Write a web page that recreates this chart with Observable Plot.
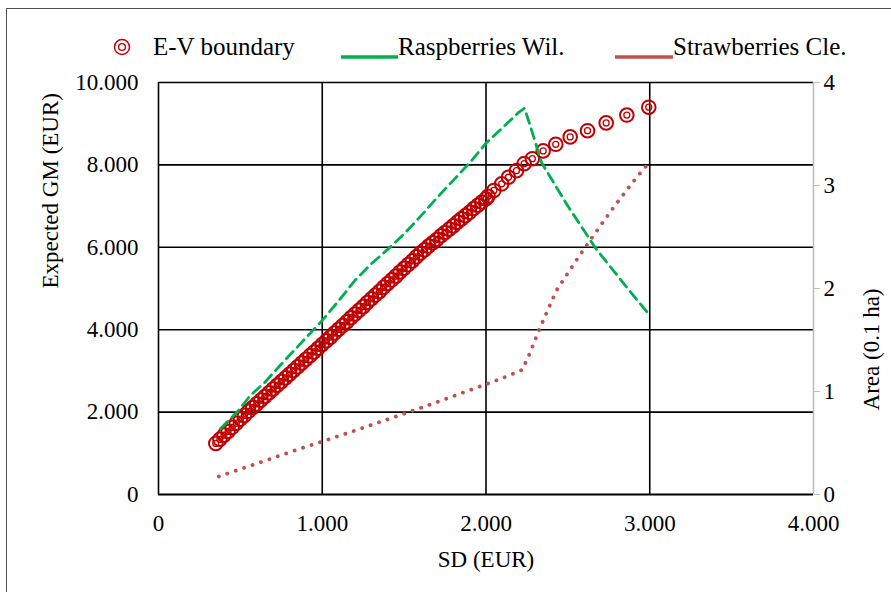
<!DOCTYPE html>
<html>
<head>
<meta charset="utf-8">
<script src="https://cdn.jsdelivr.net/npm/d3@7"></script>
<script src="https://cdn.jsdelivr.net/npm/@observablehq/plot@0.6"></script>
<style>
  html, body { margin: 0; padding: 0; background: #fff; }
  #wrap { position: relative; width: 891px; height: 592px; overflow: hidden; font-family: "Liberation Serif", "Times New Roman", "DejaVu Serif", serif; }
  #frame { position: absolute; left: 6px; top: 8px; width: 1000px; height: 1000px; border: 1.5px solid #505050; box-sizing: border-box; }
  #legend { position: absolute; left: 0; top: 0; }
  #chart { position: absolute; left: 0; top: 0; }
  #wrap svg, #wrap svg text { font-family: "Liberation Serif", "Times New Roman", "DejaVu Serif", serif !important; }
</style>
</head>
<body>
<div id="wrap">
  <div id="frame"></div>
  <div id="chart"></div>
  <svg id="legend" width="891" height="80"></svg>
</div>
<script>
// ---- Data ----
// E-V boundary: SD (EUR) and expected gross margin (EUR)
const evSD = [350,375,400,425,450,475,500,525,550,575,600,625,650,675,700,725,750,775,800,825,850,875,900,925,950,975,1000,
  1025,1050,1075,1100,1125,1150,1175,1200,1225,1250,1275,1300,1325,1350,1375,1400,1425,1450,1475,1500,1525,1550,1575,1600,
  1625,1650,1675,1700,1725,1750,1775,1800,1825,1850,1875,1900,1925,1950,1975,2000,
  2013,2048,2096,2137,2186,2233,2283,2349,2426,2514,2620,2734,2860,2994];
const evGM = [1240,1340,1440,1530,1630,1730,1830,1920,2020,2110,2200,2290,2380,2470,2560,2650,2740,2830,2920,3010,3100,3190,3280,3370,3460,3550,3640,
  3730,3820,3920,4010,4100,4190,4290,4380,4470,4560,4660,4750,4840,4930,5030,5120,5210,5300,5400,5490,5580,5670,5770,5860,
  5940,6030,6110,6190,6280,6360,6440,6520,6610,6690,6770,6850,6940,7020,7100,7180,
  7240,7380,7540,7700,7860,8030,8150,8340,8500,8680,8830,9020,9210,9400];

// Raspberries Wil.: area (0.1 ha) along the boundary
const raspSD   = [379,480,560,650,735,870,1000,1100,1200,1300,1400,1500,1600,1700,1800,1900,2000,2100,2200,2235,2270,2340,2500,2670,2850,3000];
const raspArea = [0.64,0.80,0.96,1.09,1.24,1.47,1.69,1.88,2.08,2.24,2.38,2.53,2.70,2.88,3.05,3.22,3.41,3.56,3.71,3.75,3.58,3.22,2.80,2.39,2.03,1.74];

// Strawberries Cle.: area (0.1 ha) along the boundary
const strawSD   = [368,600,800,1000,1200,1400,1600,1800,2000,2100,2221,2270,2330,2430,2550,2650,2780,2920,3000];
const strawArea = [0.175,0.30,0.41,0.515,0.62,0.73,0.84,0.955,1.07,1.13,1.21,1.38,1.62,1.98,2.27,2.50,2.79,3.08,3.23];

// Axis ticks
const xTicks = [0,1000,2000,3000,4000];
const yTicks = [0,2000,4000,6000,8000,10000];
const areaTicks = [0,1,2,3,4];
const areaMax = 4, gmMax = 10000;  // right axis 0–4 spans the same height as 0–10.000

const legendItems = ["E-V boundary","Raspberries Wil.","Strawberries Cle."];

// ---- Build tables ----
const ev = evSD.map((s,i)=>({sd:s, gm:evGM[i]}));
const rasp = raspSD.map((s,i)=>({sd:s, area:raspArea[i]}));
const straw = strawSD.map((s,i)=>({sd:s, area:strawArea[i]}));
const toY = a => a * gmMax / areaMax;

const fmt = d3.formatLocale({decimal: ",", thousands: ".", grouping: [3], currency: ["", ""]}).format(",");

const red = "#c00000", green = "#00b050", straw_c = "#c0504d";
const FONT = '"Liberation Serif", "Times New Roman", "DejaVu Serif", serif';

const chart = Plot.plot({
  width: 891, height: 592,
  marginLeft: 158, marginRight: 78, marginTop: 82, marginBottom: 98,
  style: {fontFamily: FONT, fontSize: "23px", color: "black", background: "transparent", overflow: "visible"},
  x: {domain: [0, 4000]},
  y: {domain: [0, 10000]},
  marks: [
    Plot.gridY(yTicks.filter(d=>d>0), {stroke: "black", strokeOpacity: 1, strokeWidth: 1.6}),
    Plot.gridX(xTicks.filter(d=>d<4000), {stroke: "black", strokeOpacity: 1, strokeWidth: 1.6}),
    Plot.ruleX([4000], {stroke: "#bfbfbf", strokeWidth: 1.6}),
    Plot.ruleY([0], {stroke: "black", strokeWidth: 1.8}),
    Plot.axisY({anchor: "left", ticks: yTicks, tickSize: 0, tickPadding: 20, tickFormat: fmt, label: null, fontSize: 23}),
    Plot.axisY({anchor: "right", ticks: areaTicks.map(toY), tickSize: 6, tickPadding: 4, stroke: "#bfbfbf", tickFormat: d => String(d*areaMax/gmMax), label: null, fontSize: 23}),
    Plot.axisX({anchor: "bottom", ticks: xTicks, tickSize: 0, tickPadding: 20, tickFormat: fmt, label: null, fontSize: 23}),
    Plot.dot(ev, {x: "sd", y: "gm", r: 6.8, stroke: red, fill: "none", strokeWidth: 2}),
    Plot.dot(ev, {x: "sd", y: "gm", r: 3, stroke: red, fill: "none", strokeWidth: 1.3}),
    Plot.line(rasp, {x: "sd", y: d => toY(d.area), stroke: green, strokeWidth: 2.8, strokeDasharray: "10 6"}),
    Plot.line(straw, {x: "sd", y: d => toY(d.area), stroke: straw_c, strokeWidth: 3.8, strokeDasharray: "0.1 8.8", strokeLinecap: "round"}),
    Plot.text(["Expected GM (EUR)"], {frameAnchor: "left", dx: -108, rotate: -90, fontSize: 23}),
    Plot.text(["Area (0.1 ha)"], {frameAnchor: "right", dx: 58, rotate: -90, fontSize: 23}),
    Plot.text(["SD (EUR)"], {frameAnchor: "bottom", dy: 72, fontSize: 23})
  ]
});
document.getElementById("chart").appendChild(chart);

// ---- Legend ----
const lg = d3.select("#legend").style("font-family", FONT).style("font-size", "25px");
lg.append("circle").attr("cx", 122).attr("cy", 47).attr("r", 7.5).attr("fill", "none").attr("stroke", red).attr("stroke-width", 1.5);
lg.append("circle").attr("cx", 122).attr("cy", 47).attr("r", 3.4).attr("fill", "none").attr("stroke", red).attr("stroke-width", 1.4);
lg.append("text").attr("x", 153).attr("y", 55).text(legendItems[0]);
lg.append("line").attr("x1", 341).attr("x2", 398).attr("y1", 57).attr("y2", 57).attr("stroke", green).attr("stroke-width", 3.5);
lg.append("text").attr("x", 398).attr("y", 55).text(legendItems[1]);
lg.append("line").attr("x1", 615).attr("x2", 673).attr("y1", 57).attr("y2", 57).attr("stroke", straw_c).attr("stroke-width", 3.5);
lg.append("text").attr("x", 673).attr("y", 55).text(legendItems[2]);
</script>
</body>
</html>
